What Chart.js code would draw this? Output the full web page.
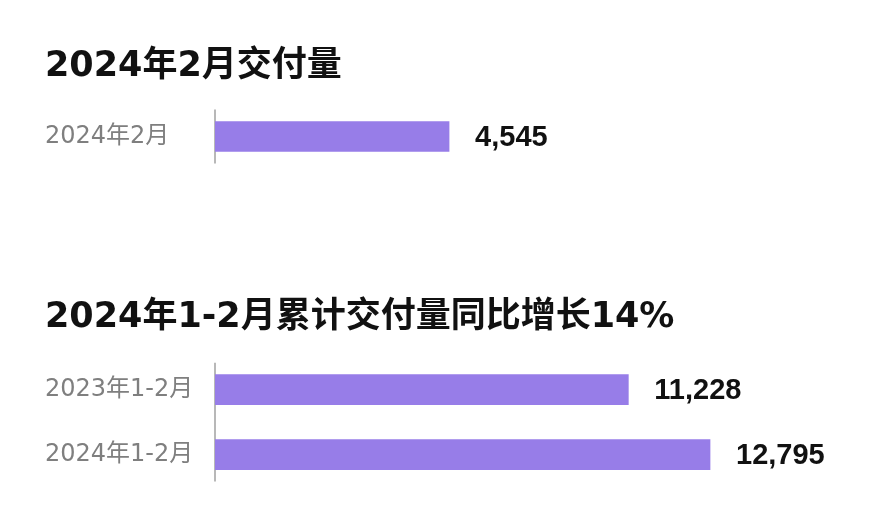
<!DOCTYPE html>
<html>
<head>
<meta charset="utf-8">
<script src="https://cdn.jsdelivr.net/npm/chart.js@4/dist/chart.umd.min.js"></script>
<style>
    html, body { margin: 0; padding: 0; background: #ffffff; }
    body { width: 888px; height: 532px; position: relative; overflow: hidden; }
    canvas { position: absolute; left: 0; }
    #monthChart { top: 0; }
    #ytdChart { top: 240px; }
</style>
</head>
<body>
<canvas id="monthChart" width="888" height="172"></canvas>
<canvas id="ytdChart" width="888" height="257"></canvas>
<script>
//----- DATA -----//
const monthTitle = '2024年2月交付量';
const monthLabels = ['2024年2月'];
const monthValues = [4545];

const ytdTitle = '2024年1-2月累计交付量同比增长14%';
const ytdLabels = ['2023年1-2月', '2024年1-2月'];
const ytdValues = [11228, 12795];

//----- STYLE -----//
const barColor = '#977de8';
const titleFont = { family: "'DejaVu Sans', 'Noto Sans CJK SC', sans-serif", size: 35, weight: 'bold' };
const tickFont = { family: "'DejaVu Sans', 'Noto Sans CJK SC', sans-serif", size: 24 };
const valueFont = "bold 29px 'Liberation Sans', Arial, sans-serif";

// write the value to the right of every bar
const valueLabels = {
    id: 'valueLabels',
    afterDatasetsDraw(chart) {
        const ctx = chart.ctx;
        const meta = chart.getDatasetMeta(0);
        const values = chart.data.datasets[0].data;
        ctx.save();
        ctx.font = valueFont;
        ctx.fillStyle = '#111111';
        ctx.textAlign = 'left';
        ctx.textBaseline = 'middle';
        meta.data.forEach((bar, i) => {
            ctx.fillText(values[i].toLocaleString('en-US'), bar.x + 26, bar.y + 1);
        });
        ctx.restore();
    }
};

// short axis line that only reaches a bit past the bars
const baseLine = {
    id: 'baseLine',
    beforeDatasetsDraw(chart) {
        const bars = chart.getDatasetMeta(0).data;
        const first = bars[0], last = bars[bars.length - 1];
        const top = first.y - first.height / 2 - 12;
        const bottom = last.y + last.height / 2 + 12;
        const x = chart.chartArea.left;
        const ctx = chart.ctx;
        ctx.save();
        ctx.strokeStyle = '#a0a0a0';
        ctx.lineWidth = 1.5;
        ctx.beginPath();
        ctx.moveTo(x, top);
        ctx.lineTo(x, bottom);
        ctx.stroke();
        ctx.restore();
    }
};

//----- CONFIG -----//
function makeConfig(title, labels, values, xMin, xMax, titlePad, padding) {
    return {
        type: 'bar',
        data: {
            labels: labels,
            datasets: [{
                data: values,
                backgroundColor: barColor,
                borderSkipped: false,
                barThickness: 30
            }]
        },
        options: {
            indexAxis: 'y',
            responsive: false,
            animation: false,
            layout: { padding: padding },
            plugins: {
                legend: { display: false },
                tooltip: { enabled: false },
                title: {
                    display: true,
                    text: title,
                    align: 'start',
                    color: '#111111',
                    font: titleFont,
                    padding: titlePad
                }
            },
            scales: {
                x: {
                    display: false,
                    min: xMin,
                    max: xMax
                },
                y: {
                    afterFit(scale) {
                        // fixed label column, no extra room for label overflow
                        scale.width = 170;
                        scale.paddingTop = 0;
                        scale.paddingBottom = 0;
                    },
                    grid: { display: false, drawTicks: false },
                    border: { display: false },
                    ticks: {
                        crossAlign: 'far',
                        color: '#7f7f7f',
                        font: tickFont
                    }
                }
            }
        },
        plugins: [baseLine, valueLabels]
    };
}

//----- RENDER -----//
// February deliveries
const monthChart = new Chart(
    document.getElementById('monthChart'),
    makeConfig(monthTitle, monthLabels, monthValues, 0, 12000,
        { top: 46, bottom: 22 }, { top: 0, left: 45, right: 55, bottom: 9 })
);

// Jan-Feb cumulative deliveries
const ytdChart = new Chart(
    document.getElementById('ytdChart'),
    makeConfig(ytdTitle, ytdLabels, ytdValues, 3300, 15000,
        { top: 56.6, bottom: 18.6 }, { top: 0, left: 45, right: 63, bottom: 10 })
);
</script>
</body>
</html>
